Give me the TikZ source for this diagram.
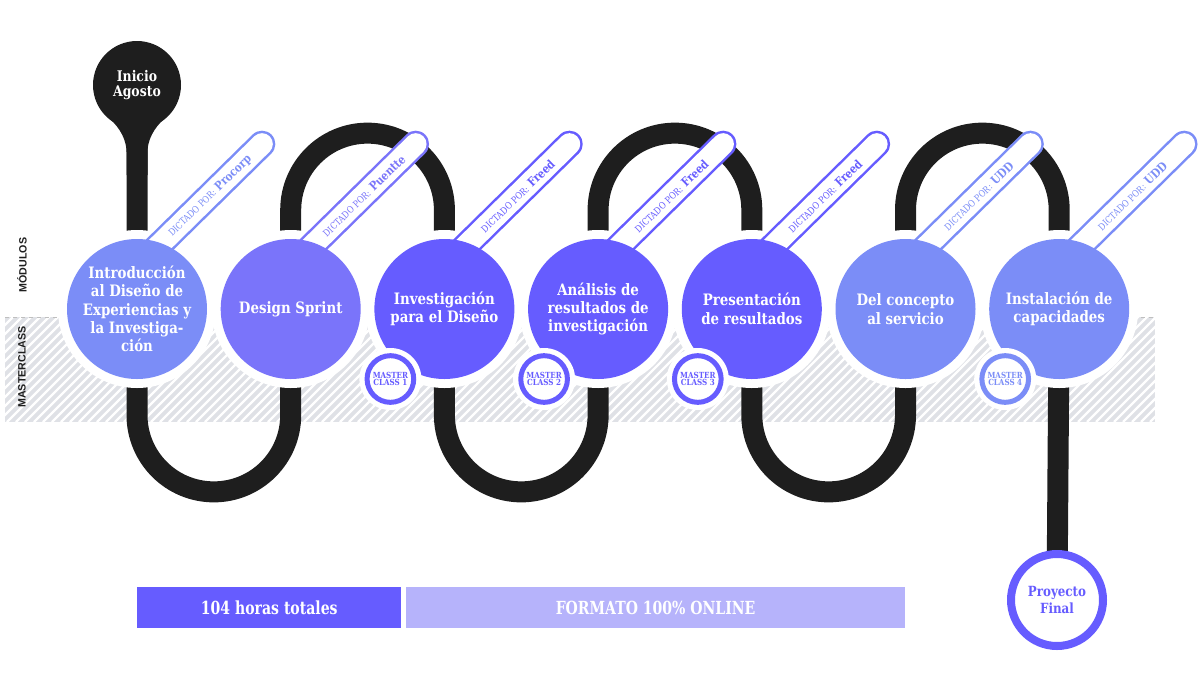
\documentclass[tikz,border=0pt]{standalone}
\usepackage{fontspec}
\setmainfont{DejaVu Serif}[FakeStretch=0.85]
\newfontfamily\condslab{DejaVu Serif}[FakeStretch=0.78]
\newfontfamily\labsans{Liberation Sans}
\usetikzlibrary{calc}
\definecolor{cblue}{HTML}{7B8DF7}
\definecolor{cmid}{HTML}{7A74FA}
\definecolor{cpurple}{HTML}{665CFF}
\definecolor{clight}{HTML}{B6B3FB}
\definecolor{hatchgray}{HTML}{DFE1E6}
\definecolor{trackc}{HTML}{1E1E1E}
\begin{document}
\begin{tikzpicture}[x=0.75pt,y=-0.75pt,
  track/.style={draw=trackc,line width=15.75pt},
  module/.style={circle,minimum size=105pt,inner sep=0pt,text=white,align=center,font=\bfseries\fontsize{11.8}{13.8}\selectfont},
  badge/.style={circle,fill=white,line width=3.75pt,minimum size=35pt,inner sep=0pt,align=center,font=\bfseries\fontsize{6.3}{5.6}\selectfont},
  pilltext/.style={rotate=44,inner sep=0pt},
  bar/.style={rectangle,inner sep=0pt,anchor=north west,text=white,minimum height=30.75pt,font=\condslab\bfseries\fontsize{13.5}{15}\selectfont},
  sidelabel/.style={rotate=90,inner sep=0pt,font=\labsans\bfseries\fontsize{8}{9}\selectfont,text=trackc}]
\useasboundingbox (0,0) rectangle (1200,679);
% centres
\coordinate (i0) at (137,85);
\coordinate (c1) at (137,309);
\coordinate (c2) at (290.7,309);
\coordinate (c3) at (444.4,309);
\coordinate (c4) at (598.1,309);
\coordinate (c5) at (751.8,309);
\coordinate (c6) at (905.5,309);
\coordinate (c7) at (1059.2,309);
\coordinate (pfc) at (1057,600);
% hatched band
\begin{scope}
\clip (5,317) rectangle (1155,422);
\fill[hatchgray] (5,317) rectangle (1155,422);
\foreach \i in {0,...,142}{
  \draw[white,line width=1.8pt] ({\i*9-110},422) -- ++(110,-110);
}
\end{scope}
\draw[gray!50,dashed,line width=0.6pt] (5,317) -- (1155,317);
% track
\draw[track] (i0) -- (c1) -- ++(0,106) arc[start angle=180,end angle=360,radius=57.64pt]
  -- (c2) -- ++(0,-99) arc[start angle=180,end angle=0,radius=57.64pt]
  -- (c3) -- ++(0,106) arc[start angle=180,end angle=360,radius=57.64pt]
  -- (c4) -- ++(0,-99) arc[start angle=180,end angle=0,radius=57.64pt]
  -- (c5) -- ++(0,106) arc[start angle=180,end angle=360,radius=57.64pt]
  -- (c6) -- ++(0,-99) arc[start angle=180,end angle=0,radius=57.64pt]
  -- (c7) -- (pfc);
\fill[trackc] (126.5,175) -- (126.5,152) .. controls (126.5,140) and (120,128) .. (110,119)
  -- (164,119) .. controls (154,128) and (147.5,140) .. (147.5,152) -- (147.5,175) -- cycle;
% halos
\foreach \c in {c1,c2,c3,c4,c5,c6,c7}{
  \fill[white] (\c) circle (59.25pt);
}
% pills
\foreach \c/\col/\who in {c1/cblue/Procorp,c2/cmid/Puentte,c3/cpurple/Freed,c4/cpurple/Freed,c5/cpurple/Freed,c6/cblue/UDD,c7/cblue/UDD}{
  \coordinate (ps\c) at ($(\c)+(4,-46)$);
  \coordinate (pe\c) at ($(\c)+(125,-165)$);
  \draw[line width=20pt,line cap=round,draw=\col] (ps\c) -- (pe\c);
  \draw[line width=16.25pt,line cap=round,draw=white] (ps\c) -- (pe\c);
  \node[pilltext,text=\col] (pl\c) at ($(\c)+(73,-113)$) {{\fontsize{7}{8}\selectfont DICTADO POR:} {\bfseries\fontsize{9}{10}\selectfont \who}};
}
% modules
\node[module,fill=cblue] (m1) at (c1) {Introducción\\al Diseño de\\Experiencias y\\la Investiga-\\ción};
\node[module,fill=cmid] (m2) at (c2) {Design Sprint};
\node[module,fill=cpurple] (m3) at (c3) {Investigación\\para el Diseño};
\node[module,fill=cpurple] (m4) at (c4) {Análisis de\\resultados de\\investigación};
\node[module,fill=cpurple] (m5) at (c5) {Presentación\\de resultados};
\node[module,fill=cblue] (m6) at (c6) {Del concepto\\al servicio};
\node[module,fill=cblue] (m7) at (c7) {Instalación de\\capacidades};
% master class badges
\foreach \c/\col/\n in {c3/cpurple/1,c4/cpurple/2,c5/cpurple/3,c7/cblue/4}{
  \fill[white] ($(\c)+(-54,70)$) circle (23.25pt);
  \node[badge,draw=\col,text=\col] (mc\n) at ($(\c)+(-54,70)$) {MASTER\\CLASS \n};
}
% start and end
\node[circle,fill=trackc,minimum size=66pt,inner sep=0pt,text=white,align=center,font=\bfseries\fontsize{11}{11}\selectfont] (inicio) at (i0) {Inicio\\Agosto};
\node[circle,fill=white,draw=cpurple,line width=6pt,minimum size=69pt,inner sep=0pt,text=cpurple,align=center,font=\bfseries\fontsize{10.5}{12.5}\selectfont] (pf) at (pfc) {Proyecto\\Final};
% side labels
\node[sidelabel] (lmod) at (22,265) {MÓDULOS};
\node[sidelabel] (lmas) at (22,367) {MASTERCLASS};
% bars
\node[bar,fill=cpurple,minimum width=198pt] (bar1) at (137,587) {104 horas totales};
\node[bar,fill=clight,minimum width=374pt] (bar2) at (406,587) {FORMATO 100\% ONLINE};
\end{tikzpicture}
\end{document}
